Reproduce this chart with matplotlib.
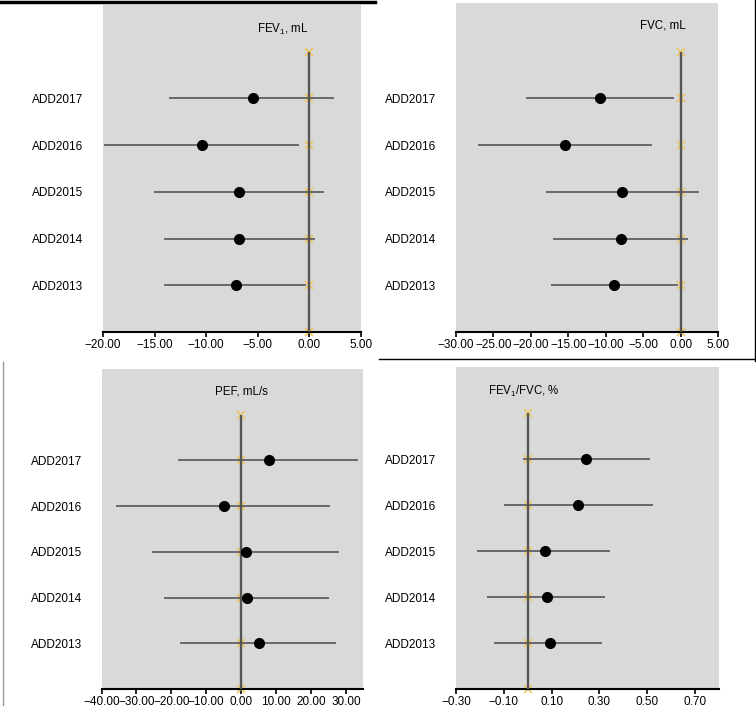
import matplotlib
matplotlib.use("Agg")
import matplotlib.pyplot as plt
from matplotlib.lines import Line2D
import numpy as np

plt.rcParams['font.family'] = ['Liberation Sans', 'DejaVu Sans']
plt.rcParams['mathtext.fontset'] = 'custom'
plt.rcParams['mathtext.rm'] = 'Liberation Sans'
plt.rcParams['mathtext.it'] = 'Liberation Sans'

studies = ['ADD2013', 'ADD2014', 'ADD2015', 'ADD2016', 'ADD2017']

# estimates and 95% CI, ordered as studies (2013 -> 2017)
fev1_est = [-7.1, -6.8, -6.8, -10.4, -5.5]
fev1_lo = [-14.1, -14.1, -15.1, -19.9, -13.6]
fev1_hi = [-0.3, 0.5, 1.4, -1.0, 2.4]

fvc_est = [-8.9, -8.0, -7.8, -15.4, -10.8]
fvc_lo = [-17.3, -17.1, -18.0, -27.1, -20.6]
fvc_hi = [-0.4, 1.0, 2.4, -3.8, -0.9]

pef_est = [5.0, 1.6, 1.3, -5.0, 7.9]
pef_lo = [-17.6, -22.2, -25.5, -35.8, -18.1]
pef_hi = [27.3, 25.1, 28.0, 25.4, 33.5]

ratio_est = [0.093, 0.082, 0.073, 0.212, 0.243]
ratio_lo = [-0.139, -0.169, -0.211, -0.099, -0.021]
ratio_hi = [0.311, 0.324, 0.343, 0.522, 0.512]

W, H = 756, 714
fig = plt.figure(figsize=(W / 100, H / 100), dpi=100)


def rect(l, r, t, b):
    return [l / W, 1 - b / H, (r - l) / W, (b - t) / H]


def fmt(v):
    s = '%.2f' % abs(v)
    return ('\u2212' + s) if v < -1e-9 else s


def forest(box, est, lo, hi, xlim, ticks, ytop, title, title_xy):
    ax = fig.add_axes(rect(*box))
    ax.set_facecolor('#d9d9d9')
    ys = np.arange(1, len(studies) + 1)
    # reference markers at zero
    ax.plot([0] * 7, range(7), 'x', color='#f0c455', ms=6, mew=1.1,
            zorder=2, clip_on=False)
    ax.vlines(0, 0, 6, color='#555555', lw=1.7, zorder=3)
    ax.hlines(ys, lo, hi, color='#555555', lw=1.2, zorder=4)
    ax.plot(est, ys, 'o', color='black', ms=7, zorder=5)
    ax.set_xlim(*xlim)
    ax.set_ylim(0, ytop)
    ax.set_xticks(ticks)
    ax.set_xticklabels([fmt(t) for t in ticks])
    ax.set_yticks(ys)
    ax.set_yticklabels(studies)
    for s in ['top', 'left', 'right']:
        ax.spines[s].set_visible(False)
    ax.spines['bottom'].set_linewidth(1.5)
    ax.tick_params(axis='x', direction='out', length=3.5, width=1.2,
                   pad=1.5, labelsize=8.5)
    ax.tick_params(axis='y', length=0, pad=14, labelsize=8.5)
    fig.text(title_xy[0] / W, 1 - title_xy[1] / H, title, ha='center',
             va='center', fontsize=8.3)
    return ax


forest((103, 361, 5, 332), fev1_est, fev1_lo, fev1_hi, (-20, 5),
       np.arange(-20, 6, 5), 7.0, 'FEV$_1$, mL', (283, 29))
forest((456, 718, 3, 332), fvc_est, fvc_lo, fvc_hi, (-30, 5),
       np.arange(-30, 6, 5), 7.04, 'FVC, mL', (663, 26))
forest((101.5, 363.3, 369, 689), pef_est, pef_lo, pef_hi, (-40, 35),
       np.arange(-40, 31, 10), 7.0, 'PEF, mL/s', (241, 391))
forest((456, 719, 367, 689), ratio_est, ratio_lo, ratio_hi, (-0.3, 0.8),
       np.arange(-0.3, 0.71, 0.2), 7.0, 'FEV$_1$/FVC, %', (524, 391))

# leftover frame edges from the original panel layout
def fline(x0, y0, x1, y1, **kw):
    fig.add_artist(Line2D([x0 / W, x1 / W], [1 - y0 / H, 1 - y1 / H], **kw))

fline(0, 1.5, 375, 1.5, color='black', lw=2.5)
fline(755, 0, 755, 361, color='black', lw=1.0)
fline(379, 359, 756, 359, color='black', lw=1.0)
fline(3, 362, 3, 705, color='#999999', lw=1.0)

fig.savefig('out.png', dpi=100)
